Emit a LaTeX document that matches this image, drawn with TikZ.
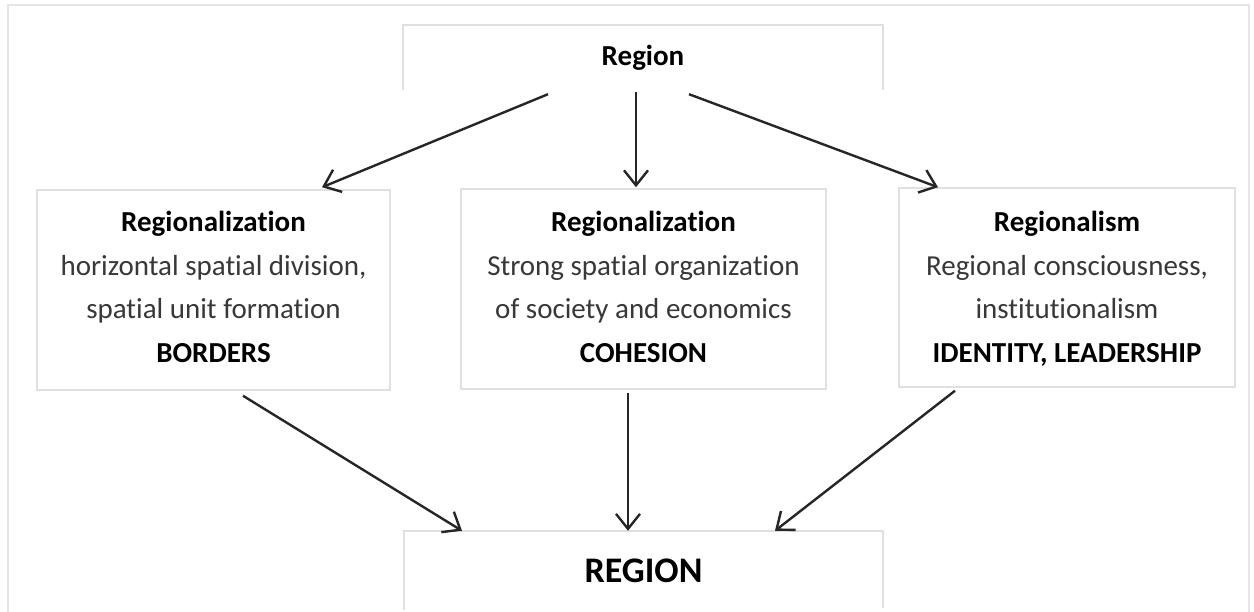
\documentclass[tikz,border=0pt]{standalone}
\usepackage{fontspec}
\setmainfont{Carlito}[Ligatures=NoCommon]
\usetikzlibrary{arrows.meta,calc}
\definecolor{boxgray}{HTML}{E0E0E0}
\definecolor{framegray}{HTML}{E6E6E6}
\definecolor{txtgray}{HTML}{383838}
\definecolor{arrgray}{HTML}{262626}
\tikzset{
  panel/.style={draw=boxgray, line width=1.5pt},
  outerframe/.style={draw=framegray, line width=2pt},
  label/.style={align=center, text=txtgray, font=\fontsize{29}{43.5}\selectfont, inner sep=0pt},
  conn/.style={draw=arrgray, line width=2.4pt, -{Straight Barb[length=15pt,width=24pt]}}
}
\newcommand{\hd}[1]{{\bfseries\color{black}#1}}
\begin{document}
\begin{tikzpicture}[x=1pt,y=-1pt]
\useasboundingbox (0,0) rectangle (1254,612);
\fill[white] (0,0) rectangle (1254,612);
\draw[outerframe] (8,612) -- (8,5) -- (1249,5) -- (1249,612);

% top box (open at bottom)
\node[label, minimum width=480pt, minimum height=65pt] (top) at (643,57.5) {\hd{Region}};
\draw[panel] (top.south west) -- (top.north west) -- (top.north east) -- (top.south east);

% middle row: boxes
\node[panel, minimum width=353pt, minimum height=200pt] (leftbox) at (213.5,290) {};
\node[panel, minimum width=365pt, minimum height=200pt] (midbox) at (643.5,289) {};
\node[panel, minimum width=336pt, minimum height=199pt] (rightbox) at (1067,287.5) {};
% middle row: texts
\node[label] (lefttext) at (213.5,289)
  {\hd{Regionalization}\\horizontal spatial division,\\spatial unit formation\\\hd{BORDERS}\vphantom{y}};
\node[label] (midtext) at (643.5,289)
  {\hd{Regionalization}\\Strong spatial organization\\of society and economics\\\hd{COHESION}\vphantom{y}};
\node[label] (righttext) at (1067,289)
  {\hd{Regionalism}\\Regional consciousness,\\institutionalism\\\hd{IDENTITY, LEADERSHIP}\vphantom{y}};

% bottom box (open at bottom)
\node[label, font=\fontsize{36}{43}\selectfont, minimum width=479pt, minimum height=79pt] (bottom) at (643.5,570.5) {\hd{REGION}};
\draw[panel] (bottom.south west) -- (bottom.north west) -- (bottom.north east) -- ([yshift=2pt]bottom.north east |- bottom.south);

% connectors
\draw[conn] ($(top.south)+(-95,4)$) -- ($(leftbox.north)+(108.5,-2)$);
\draw[conn] ($(top.south)+(-7,2)$) -- ($(midbox.north)+(-7.5,-1)$);
\draw[conn] ($(top.south)+(46,4)$) -- ($(rightbox.north)+(-129,0)$);
\draw[conn] ($(leftbox.south)+(29.5,5)$) -- ($(bottom.north)+(-181.5,0)$);
\draw[conn] ($(midbox.south)+(-15.5,3)$) -- ($(bottom.north)+(-15.5,0)$);
\draw[conn] ($(rightbox.south)+(-112,3)$) -- ($(bottom.north)+(131.5,0)$);
\end{tikzpicture}
\end{document}
